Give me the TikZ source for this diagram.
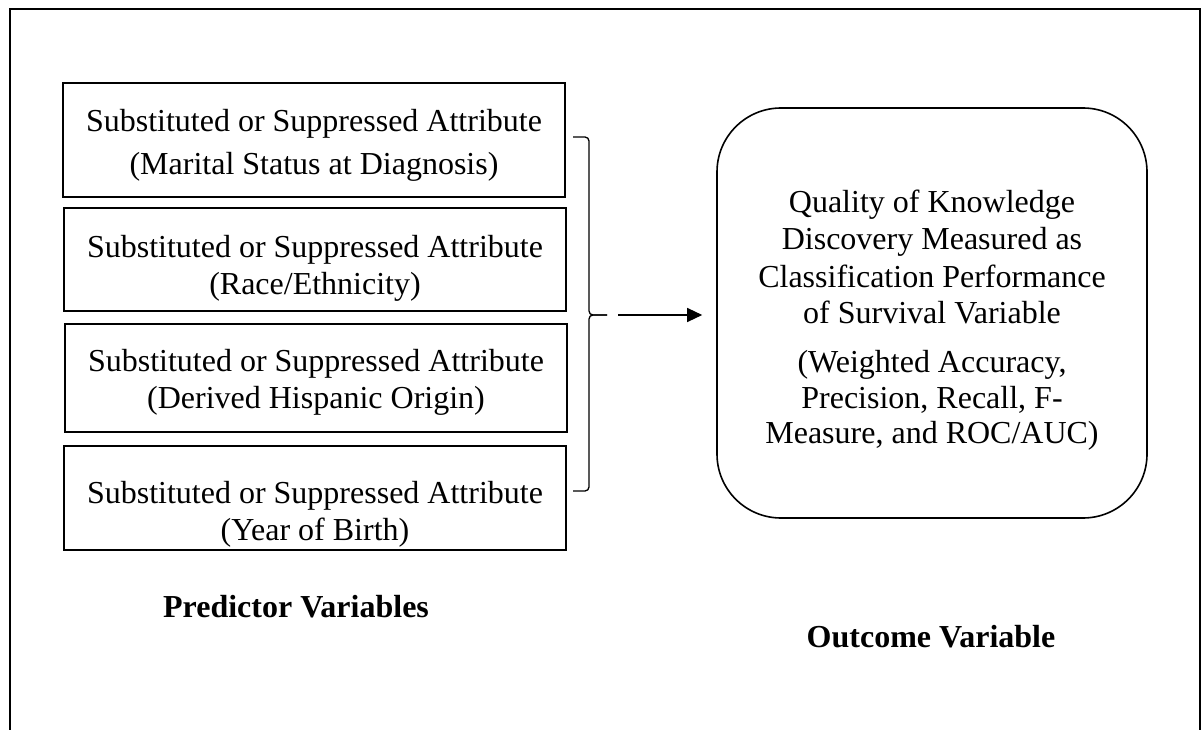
\documentclass[tikz,border=0pt]{standalone}
\usepackage{fontspec}
\setmainfont{Liberation Serif}
\usetikzlibrary{arrows.meta}
\begin{document}
\begin{tikzpicture}[x=1pt,y=-1pt,
  attrbox/.style={draw, line width=1.6pt, inner sep=0pt, minimum width=502pt},
  lbl/.style={anchor=base, inner sep=0pt, font=\fontsize{32}{37}\selectfont},
  heading/.style={anchor=base, inner sep=0pt, font=\fontsize{32}{37}\selectfont\bfseries},
  outbox/.style={draw, line width=1.6pt, rounded corners=64pt, inner sep=0pt, minimum width=430pt, minimum height=410pt},
  bracepath/.style={line width=1.3pt, rounded corners=4pt},
  arrowline/.style={line width=1.3pt, -{Triangle[length=15pt, width=14pt]}}]
\useasboundingbox (0,0) rectangle (1202,730);
% frame
\draw[line width=2.2pt] (10,730) -- (10,9) -- (1200,9) -- (1200,730);
% attribute boxes
\node[attrbox, minimum height=114pt] (b1) at (314,140) {};
\node[attrbox, minimum height=103pt] (b2) at (315,259.5) {};
\node[attrbox, minimum height=108pt] (b3) at (316,378) {};
\node[attrbox, minimum height=104pt] (b4) at (315,498) {};
\node[lbl] (t1a) at (314,132) {Substituted or Suppressed Attribute};
\node[lbl] (t1b) at (314,175) {(Marital Status at Diagnosis)};
\node[lbl] (t2a) at (315,257) {Substituted or Suppressed Attribute};
\node[lbl] (t2b) at (315,294) {(Race/Ethnicity)};
\node[lbl] (t3a) at (316,371) {Substituted or Suppressed Attribute};
\node[lbl] (t3b) at (316,408) {(Derived Hispanic Origin)};
\node[lbl] (t4a) at (315,503) {Substituted or Suppressed Attribute};
\node[lbl] (t4b) at (315,540) {(Year of Birth)};
% outcome box
\node[outbox] (out) at (932,313) {};
\node[lbl] (o1) at (932,213) {Quality of Knowledge};
\node[lbl] (o2) at (932,250) {Discovery Measured as};
\node[lbl] (o3) at (932,287) {Classification Performance};
\node[lbl] (o4) at (932,323) {of Survival Variable};
\node[lbl] (o5) at (932,372) {(Weighted Accuracy,};
\node[lbl] (o6) at (932,408) {Precision, Recall, F-};
\node[lbl] (o7) at (932,443) {Measure, and ROC/AUC)};
% brace
\coordinate (btop) at (573,137);
\coordinate (bbot) at (573,491);
\coordinate (btip) at (607,315);
\coordinate (astart) at (618,315);
\draw[bracepath] (btop) -- (589,137) -- (589,315) -- (btip);
\draw[bracepath] (bbot) -- (589,491) -- (589,315) -- (btip);
\draw[arrowline, shorten >=14pt] (astart) -- (astart -| out.west);
% headings
\node[heading] (pv) at (296,617) {Predictor Variables};
\node[heading] (ov) at (931,647) {Outcome Variable};
\end{tikzpicture}
\end{document}
